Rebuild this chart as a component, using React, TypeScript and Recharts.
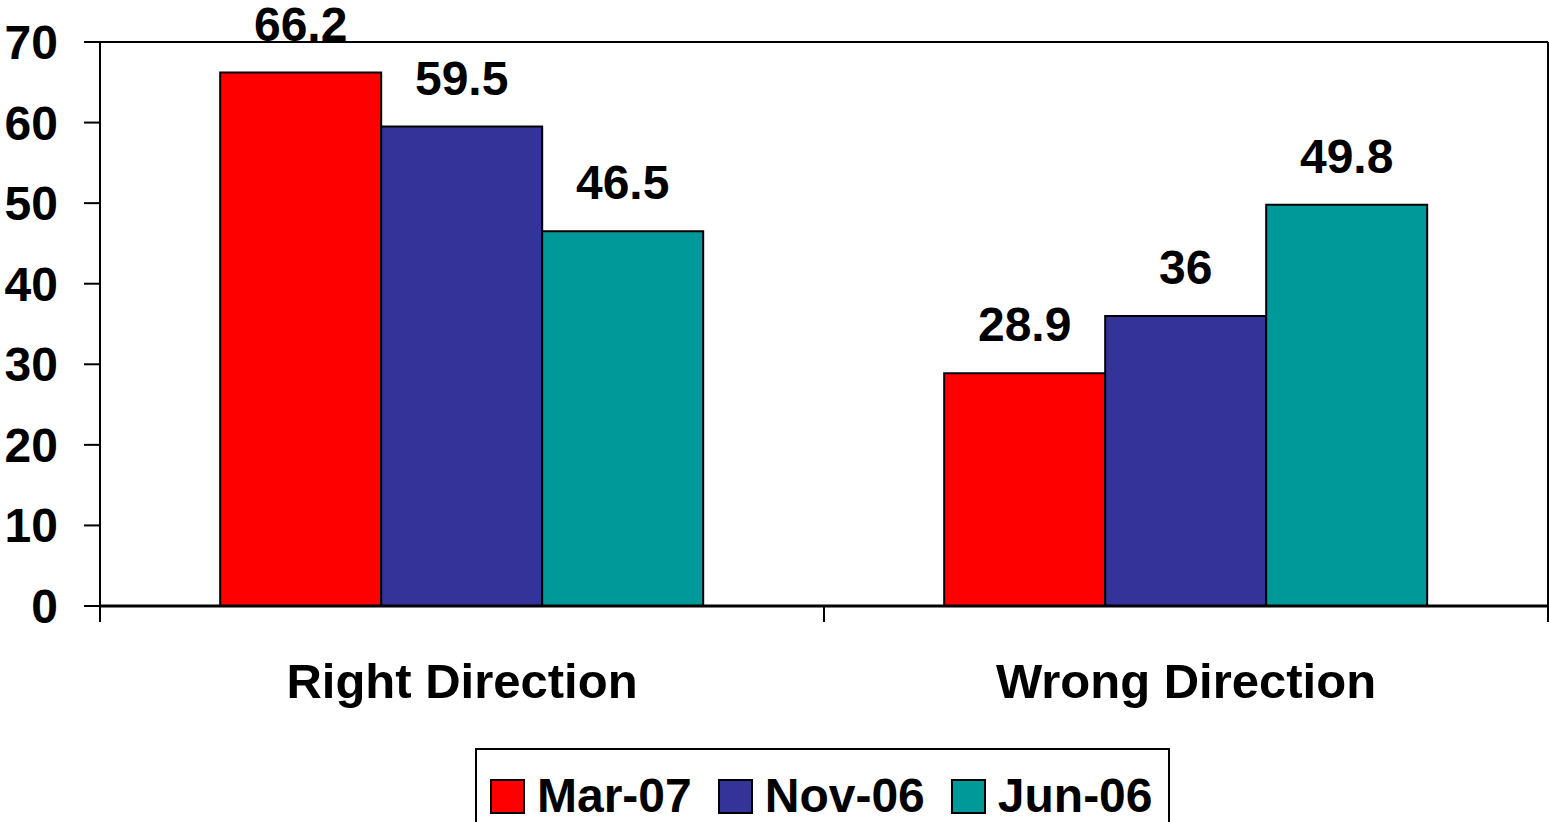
import React from "react";
import { BarChart, Bar, XAxis, YAxis, CartesianGrid, LabelList } from "recharts";

const categories = ["Right Direction", "Wrong Direction"];
const mar07 = [66.2, 28.9];
const nov06 = [59.5, 36];
const jun06 = [46.5, 49.8];
const yTicks = [0, 10, 20, 30, 40, 50, 60, 70];

const seriesList = [
  { key: "mar07", name: "Mar-07", color: "#FF0000", values: mar07 },
  { key: "nov06", name: "Nov-06", color: "#333399", values: nov06 },
  { key: "jun06", name: "Jun-06", color: "#009999", values: jun06 },
];

const chartData = categories.map((name, i) => {
  const row: Record<string, string | number> = { name };
  seriesList.forEach((s) => {
    row[s.key] = s.values[i];
  });
  return row;
});

const FONT = '"Liberation Sans", Arial, sans-serif';

function CategoryTick(props: any) {
  const { x, y, payload, index, visibleTicksCount } = props;
  const half = payload?.offset ?? 0;
  const isLast = index === (visibleTicksCount ?? categories.length) - 1;
  return (
    <g>
      <line x1={x - half} y1={y} x2={x - half} y2={y + 16} stroke="#000" strokeWidth={2} />
      {isLast && <line x1={x + half} y1={y} x2={x + half} y2={y + 16} stroke="#000" strokeWidth={2} />}
      <text
        x={x}
        y={y + 92}
        textAnchor="middle"
        fontFamily={FONT}
        fontWeight="bold"
        fontSize={49}
        fill="#000"
      >
        {payload.value}
      </text>
    </g>
  );
}

function ChartLegend() {
  return (
    <div
      style={{
        position: "absolute",
        left: 475,
        top: 748,
        height: 90,
        border: "2px solid #000",
        background: "#fff",
        display: "flex",
        alignItems: "flex-start",
        paddingLeft: 13,
        paddingRight: 15,
        paddingTop: 22,
        boxSizing: "border-box",
        fontFamily: FONT,
        fontWeight: "bold",
        fontSize: 48,
        lineHeight: "48px",
      }}
    >
      {seriesList.map((s, i) => (
        <div key={s.key} style={{ display: "flex", alignItems: "center", marginLeft: i === 0 ? 0 : 26 }}>
          <div
            style={{
              width: 31,
              height: 31,
              background: s.color,
              border: "2px solid #000",
              marginRight: 12,
            }}
          />
          <span>{s.name}</span>
        </div>
      ))}
    </div>
  );
}

export default function App() {
  return (
    <div style={{ position: "absolute", left: 0, top: 0, width: 1549, height: 822, background: "#fff", overflow: "hidden" }}>
      <BarChart
        width={1549}
        height={822}
        data={chartData}
        margin={{ top: 42, right: 0, left: 0, bottom: 0 }}
        barCategoryGap="16.6%"
        barGap={0}
      >
        <CartesianGrid vertical={false} stroke="#000" strokeWidth={2} />
        <XAxis
          dataKey="name"
          height={216}
          tickSize={0}
          tickMargin={0}
          tickLine={false}
          axisLine={{ stroke: "#000", strokeWidth: 3 }}
          tick={<CategoryTick />}
          interval={0}
        />
        <YAxis
          yAxisId="left"
          width={100}
          domain={[0, 70]}
          ticks={yTicks}
          interval={0}
          tickSize={16}
          tickMargin={26}
          axisLine={{ stroke: "#000", strokeWidth: 2 }}
          tickLine={{ stroke: "#000", strokeWidth: 2 }}
          tick={{ fill: "#000", fontSize: 48, fontWeight: "bold", fontFamily: FONT }}
        />
        <YAxis
          yAxisId="right"
          orientation="right"
          width={1}
          domain={[0, 70]}
          tick={false}
          tickLine={false}
          axisLine={{ stroke: "#000", strokeWidth: 2 }}
        />
        {seriesList.map((s) => (
          <Bar
            key={s.key}
            yAxisId="left"
            dataKey={s.key}
            name={s.name}
            fill={s.color}
            stroke="#000"
            strokeWidth={2}
            isAnimationActive={false}
          >
            <LabelList
              dataKey={s.key}
              position="top"
              offset={32}
              fill="#000"
              fontSize={48}
              fontWeight="bold"
              fontFamily={FONT}
            />
          </Bar>
        ))}
      </BarChart>
      <ChartLegend />
    </div>
  );
}
